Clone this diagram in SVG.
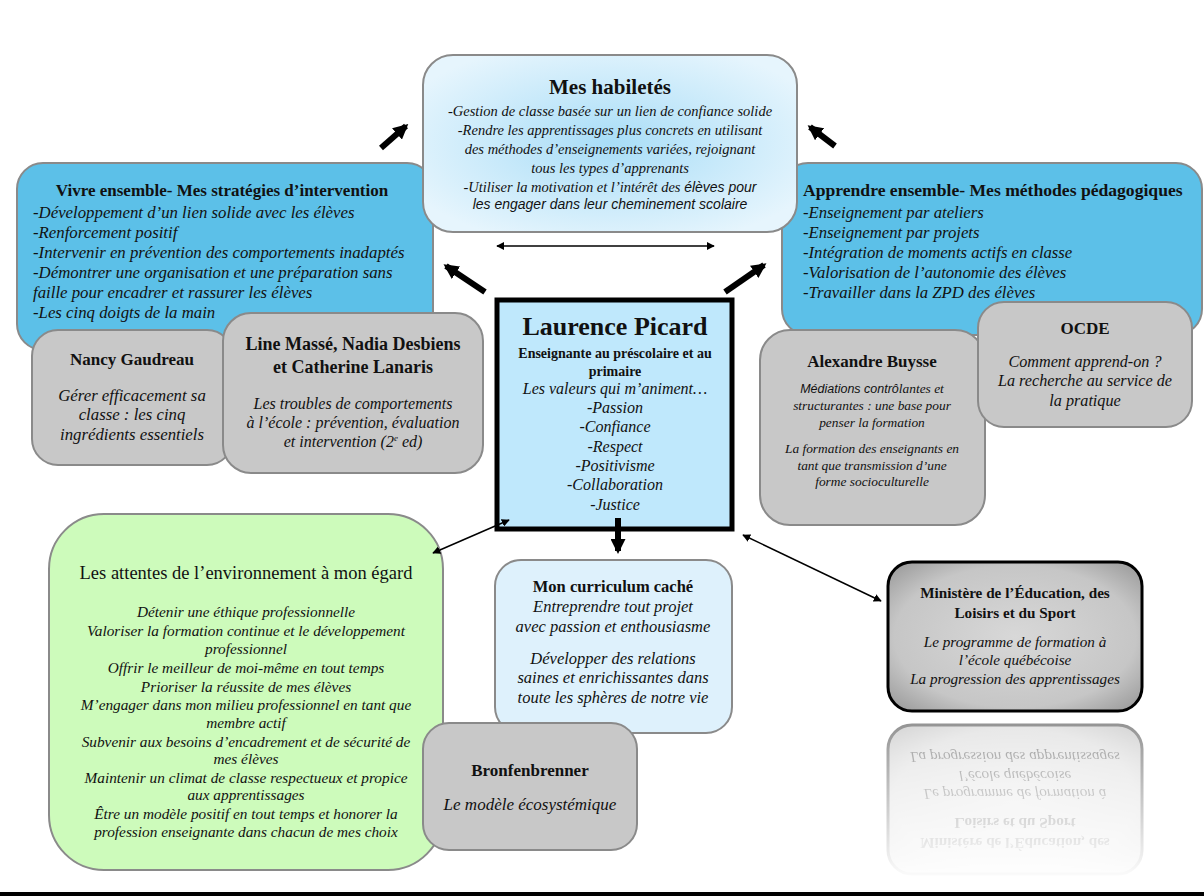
<svg xmlns="http://www.w3.org/2000/svg" xmlns:xlink="http://www.w3.org/1999/xlink" width="1204" height="896" viewBox="0 0 1204 896">
<defs>
<radialGradient id="gHab" cx="0.5" cy="0.5" r="0.6">
<stop offset="0" stop-color="#a8ddf7"/>
<stop offset="1" stop-color="#e6f5fd"/>
</radialGradient>
<radialGradient id="gMin" cx="0.5" cy="0.5" r="0.68">
<stop offset="0" stop-color="#d8d8d8"/>
<stop offset="0.7" stop-color="#c6c6c6"/>
<stop offset="1" stop-color="#9a9a9a"/>
</radialGradient>
<linearGradient id="gFade" x1="0" y1="0" x2="0" y2="1">
<stop offset="0" stop-color="#fff" stop-opacity="0.45"/>
<stop offset="1" stop-color="#fff" stop-opacity="0"/>
</linearGradient>
<mask id="mFade" maskUnits="userSpaceOnUse" x="880" y="712" width="270" height="170">
<rect x="880" y="712" width="270" height="170" fill="url(#gFade)"/>
</mask>
<marker id="thinHead" viewBox="0 0 10 10" refX="9" refY="5" markerWidth="8" markerHeight="8" markerUnits="userSpaceOnUse" orient="auto-start-reverse">
<path d="M0,0 L10,5 L0,10 z" fill="#000"/>
</marker>
<marker id="thickHead" viewBox="0 0 10 10" refX="8" refY="5" markerWidth="15" markerHeight="15" markerUnits="userSpaceOnUse" orient="auto">
<path d="M0,0 L10,5 L0,10 z" fill="#000"/>
</marker>
<style>
text{font-family:"Liberation Serif","DejaVu Serif",serif;fill:#111;}
.t{font-weight:bold;text-anchor:middle;}
.c{text-anchor:middle;}
.i{font-style:italic;}
.s{font-family:"Liberation Sans","DejaVu Sans",sans-serif;}
.gray{fill:#c8c8c8;stroke:#8a8a8a;stroke-width:2;}
.blue{fill:#5cc0e8;stroke:#8a8a8a;stroke-width:2;}
.thick{stroke:#000;stroke-width:6;fill:none;marker-end:url(#thickHead);}
.thin{stroke:#000;stroke-width:1.5;fill:none;marker-start:url(#thinHead);marker-end:url(#thinHead);}
</style>
</defs>
<rect x="0" y="0" width="1204" height="896" fill="#fff"/>
<rect x="0" y="892" width="1204" height="4" fill="#000"/>

<g id="vivre-ensemble">
<rect class="blue" x="17" y="163" width="416" height="187" rx="26"/>
<text class="t" x="222" y="196" font-size="17">Vivre ensemble- Mes stratégies d’intervention</text>
<g class="i" font-size="16.8">
<text x="33" y="218">-Développement d’un lien solide avec les élèves</text>
<text x="33" y="238">-Renforcement positif</text>
<text x="33" y="258">-Intervenir en prévention des comportements inadaptés</text>
<text x="33" y="278">-Démontrer une organisation et une préparation sans</text>
<text x="33" y="298">faille pour encadrer et rassurer les élèves</text>
<text x="33" y="318">-Les cinq doigts de la main</text>
</g>
</g>

<g id="apprendre-ensemble">
<rect class="blue" x="782" y="163" width="420" height="172" rx="26"/>
<text x="803" y="196" font-size="17.6" font-weight="bold">Apprendre ensemble- Mes méthodes pédagogiques</text>
<g class="i" font-size="16.7">
<text x="803" y="218">-Enseignement par ateliers</text>
<text x="803" y="238">-Enseignement par projets</text>
<text x="803" y="258">-Intégration de moments actifs en classe</text>
<text x="803" y="278">-Valorisation de l’autonomie des élèves</text>
<text x="803" y="298">-Travailler dans la ZPD des élèves</text>
</g>
</g>

<g id="habiletes">
<rect x="423" y="55" width="374" height="177" rx="30" fill="url(#gHab)" stroke="#8a8a8a" stroke-width="2"/>
<text class="t" x="610" y="94" font-size="21">Mes habiletés</text>
<g class="c i" font-size="14.5">
<text x="610" y="116">-Gestion de classe basée sur un lien de confiance solide</text>
<text x="610" y="135">-Rendre les apprentissages plus concrets en utilisant</text>
<text x="610" y="154">des méthodes d’enseignements variées, rejoignant</text>
<text x="610" y="173">tous les types d’apprenants</text>
<text x="610" y="192">-Utiliser la motivation et l’intérêt des <tspan class="s" font-size="14">élèves pour</tspan></text>
<text class="s" x="610" y="209" font-size="14">les engager dans leur cheminement scolaire</text>
</g>
</g>

<g id="nancy-gaudreau">
<rect class="gray" x="32" y="330" width="201" height="135" rx="26"/>
<text class="t" x="132" y="365" font-size="17">Nancy Gaudreau</text>
<g class="c i" font-size="16.8">
<text x="132" y="401">Gérer efficacement sa</text>
<text x="132" y="420">classe : les cinq</text>
<text x="132" y="440">ingrédients essentiels</text>
</g>
</g>

<g id="line-masse">
<rect class="gray" x="223" y="313" width="260" height="160" rx="28"/>
<text class="t" x="353" y="350" font-size="18">Line Massé, Nadia Desbiens</text>
<text class="t" x="353" y="373" font-size="18">et Catherine Lanaris</text>
<g class="c i" font-size="16">
<text x="353" y="409">Les troubles de comportements</text>
<text x="353" y="428">à l’école : prévention, évaluation</text>
<text x="353" y="447">et intervention (2<tspan font-size="9" dy="-6">e</tspan><tspan dy="6"> ed)</tspan></text>
</g>
</g>

<g id="alexandre-buysse">
<rect class="gray" x="760" y="330" width="225" height="195" rx="30"/>
<text class="t" x="872" y="367" font-size="17">Alexandre Buysse</text>
<g class="c i" font-size="13.4">
<text x="872" y="393"><tspan class="s" font-size="12.5">Médiations contrô</tspan>lantes et</text>
<text x="872" y="410">structurantes : une base pour</text>
<text x="872" y="427">penser la formation</text>
<text x="872" y="453">La formation des enseignants en</text>
<text x="872" y="470">tant que transmission d’une</text>
<text x="872" y="486">forme socioculturelle</text>
</g>
</g>

<g id="ocde">
<rect class="gray" x="978" y="302" width="214" height="125" rx="26"/>
<text class="t" x="1085" y="334" font-size="17">OCDE</text>
<g class="c i" font-size="16.2">
<text x="1085" y="367">Comment apprend-on ?</text>
<text x="1085" y="386">La recherche au service de</text>
<text x="1085" y="406">la pratique</text>
</g>
</g>

<g id="laurence-picard">
<rect x="497" y="300" width="235" height="229" fill="#bfe8fc" stroke="#000" stroke-width="5"/>
<text class="t" x="615" y="335" font-size="26">Laurence Picard</text>
<text class="t" x="615" y="358" font-size="14">Enseignante au préscolaire et au</text>
<text class="t" x="615" y="376" font-size="14">primaire</text>
<g class="c i" font-size="16">
<text x="615" y="394">Les valeurs qui m’animent…</text>
<text x="615" y="413">-Passion</text>
<text x="615" y="432">-Confiance</text>
<text x="615" y="452">-Respect</text>
<text x="615" y="471">-Positivisme</text>
<text x="615" y="490">-Collaboration</text>
<text x="615" y="510">-Justice</text>
</g>
</g>

<g id="attentes">
<rect x="49" y="514" width="394" height="356" rx="55" fill="#cdfbbb" stroke="#8a8a8a" stroke-width="2"/>
<text class="c" x="246" y="579" font-size="18.5">Les attentes de l’environnement à mon égard</text>
<g class="c i" font-size="15.3">
<text x="246" y="617">Détenir une éthique professionnelle</text>
<text x="246" y="636">Valoriser la formation continue et le développement</text>
<text x="246" y="654">professionnel</text>
<text x="246" y="673">Offrir le meilleur de moi-même en tout temps</text>
<text x="246" y="692">Prioriser la réussite de mes élèves</text>
<text x="246" y="710">M’engager dans mon milieu professionnel en tant que</text>
<text x="246" y="728">membre actif</text>
<text x="246" y="747">Subvenir aux besoins d’encadrement et de sécurité de</text>
<text x="246" y="764">mes élèves</text>
<text x="246" y="783">Maintenir un climat de classe respectueux et propice</text>
<text x="246" y="800">aux apprentissages</text>
<text x="246" y="819">Être un modèle positif en tout temps et honorer la</text>
<text x="246" y="837">profession enseignante dans chacun de mes choix</text>
</g>
</g>

<g id="curriculum">
<rect x="495" y="560" width="237" height="173" rx="26" fill="#def1fc" stroke="#8a8a8a" stroke-width="2"/>
<text class="t" x="613" y="592" font-size="16.5">Mon curriculum caché</text>
<g class="c i" font-size="16.5">
<text x="613" y="612">Entreprendre tout projet</text>
<text x="613" y="632">avec passion et enthousiasme</text>
<text x="613" y="664">Développer des relations</text>
<text x="613" y="683">saines et enrichissantes dans</text>
<text x="613" y="703">toute les sphères de notre vie</text>
</g>
</g>

<g id="bronfenbrenner">
<rect class="gray" x="423" y="723" width="214" height="127" rx="26"/>
<text class="t" x="530" y="776" font-size="17">Bronfenbrenner</text>
<text class="c i" x="530" y="810" font-size="17">Le modèle écosystémique</text>
</g>

<g id="ministere">
<rect x="888" y="562" width="254" height="149" rx="24" fill="url(#gMin)" stroke="#000" stroke-width="3"/>
<text class="t" x="1015" y="598" font-size="15.2">Ministère de l’Éducation, des</text>
<text class="t" x="1015" y="618" font-size="15.2">Loisirs et du Sport</text>
<g class="c i" font-size="15.2">
<text x="1015" y="647">Le programme de formation à</text>
<text x="1015" y="665">l’école québécoise</text>
<text x="1015" y="684">La progression des apprentissages</text>
</g>
</g>
<g id="ministere-reflection" mask="url(#mFade)">
<use xlink:href="#ministere" transform="translate(0,1436) scale(1,-1)"/>
</g>

<g id="connectors">
<line class="thick" x1="485" y1="292" x2="446" y2="266"/>
<line class="thick" x1="725" y1="292" x2="764" y2="265"/>
<line class="thick" x1="381" y1="148" x2="406" y2="126"/>
<line class="thick" x1="835" y1="146" x2="810" y2="127"/>
<line class="thick" x1="618" y1="518" x2="618" y2="551"/>
<line class="thin" x1="497" y1="246" x2="714" y2="246"/>
<line class="thin" x1="433" y1="553" x2="509" y2="520"/>
<line class="thin" x1="743" y1="535" x2="881" y2="601"/>
</g>
</svg>
